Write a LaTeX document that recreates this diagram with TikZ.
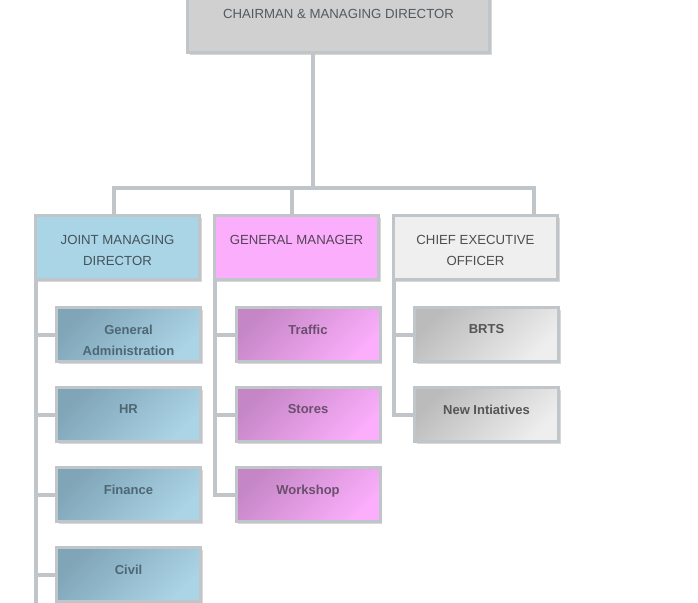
\documentclass[tikz,border=0pt]{standalone}
\usepackage{fontspec}
\setmainfont{Liberation Sans}
\usetikzlibrary{shadows}
\definecolor{linec}{HTML}{BFC5C9}
\definecolor{topc}{HTML}{D0D0D0}
\definecolor{toptx}{HTML}{535A5F}
\definecolor{jmdc}{HTML}{AAD5E7}
\definecolor{jmdtx}{HTML}{44535B}
\definecolor{gmc}{HTML}{FBAEFB}
\definecolor{gmtx}{HTML}{544458}
\definecolor{ceoc}{HTML}{EFEFEF}
\definecolor{ceotx}{HTML}{4E4E4E}
\definecolor{jA}{HTML}{7FA5B7}
\definecolor{jB}{HTML}{ABD4E6}
\definecolor{jtx}{HTML}{4F6673}
\definecolor{gA}{HTML}{C586C6}
\definecolor{gB}{HTML}{FBAEFB}
\definecolor{gtx}{HTML}{6A4F6E}
\definecolor{cA}{HTML}{BBBBBB}
\definecolor{cB}{HTML}{EEEEEE}
\definecolor{ctx}{HTML}{555555}
\begin{document}
\begin{tikzpicture}[x=1pt,y=-1pt,
  conn/.style={draw=linec, line width=4pt},
  box/.style={draw=linec, line width=3pt, inner sep=0pt,
    drop shadow={shadow xshift=2pt, shadow yshift=-2pt, opacity=0.3}},
  lvl/.style={box, minimum width=164pt, minimum height=64pt},
  sub/.style={box, minimum width=144pt, minimum height=54pt},
  jsub/.style={sub, top color=jA, bottom color=jB, shading angle=45},
  gsub/.style={sub, top color=gA, bottom color=gB, shading angle=45},
  csub/.style={sub, top color=cA, bottom color=cB, shading angle=45},
  ttl/.style={font=\fontsize{13.2}{21}\selectfont, align=center, inner sep=0pt, anchor=north},
  subt/.style={font=\fontsize{13}{21}\selectfont\bfseries, align=center, inner sep=0pt, anchor=north},
]
\useasboundingbox[fill=white] (0,0) rectangle (698,602);

% coordinates for connectors
\coordinate (bt) at (313,188);
\coordinate (bl) at (114,188);
\coordinate (bm) at (292,188);
\coordinate (br) at (534,188);
\coordinate (jv) at (36,612);
\coordinate (gv) at (215,0);
\coordinate (cv) at (394,0);

% boxes
\node[box, fill=topc, minimum width=302pt, minimum height=90pt] (ch) at (338.5,8) {};

\node[lvl, fill=jmdc] (jmd) at (117.5,247.5) {};
\node[lvl, fill=gmc] (gm) at (296.5,247.5) {};
\node[lvl, fill=ceoc] (ceo) at (475.5,247.5) {};

\node[jsub] (ga) at (128.5,334.5) {};
\node[jsub] (hr) at (128.5,414.5) {};
\node[jsub] (fin) at (128.5,494.5) {};
\node[jsub] (civ) at (128.5,574.5) {};

\node[gsub] (tr) at (308,334.5) {};
\node[gsub] (st) at (308,414.5) {};
\node[gsub] (ws) at (308,494.5) {};

\node[csub] (br1) at (486.5,334.5) {};
\node[csub] (ni) at (486.5,414.5) {};

% connectors
\draw[conn] (ch.south -| bt) -- (bt);
\draw[conn] (bl |- jmd.north) -- (bl) -- (br) -- (br |- ceo.north);
\draw[conn] (bm) -- (bm |- gm.north);
\draw[conn] (jmd.south -| jv) -- (jv);
\foreach \n in {ga,hr,fin,civ} \draw[conn] (jv |- \n.west) -- (\n.west);
\draw[conn] (gm.south -| gv) -- (gv |- ws.west) -- (ws.west);
\foreach \n in {tr,st} \draw[conn] (gv |- \n.west) -- (\n.west);
\draw[conn] (ceo.south -| cv) -- (cv |- ni.west) -- (ni.west);
\draw[conn] (cv |- br1.west) -- (br1.west);

% texts
\node[ttl, text=toptx] (cht) at (338.5,9.3) {CHAIRMAN \& MANAGING DIRECTOR};
\node[ttl, text=jmdtx] (jmdt) at (117.5,235.5) {JOINT MANAGING\\DIRECTOR};
\node[ttl, text=gmtx] (gmt) at (296.5,235.5) {GENERAL MANAGER};
\node[ttl, text=ceotx] (ceot) at (475.5,235.5) {CHIEF EXECUTIVE\\OFFICER};

\node[subt, text=jtx] (gat) at (128.5,324.5) {General\\Administration};
\node[subt, text=jtx] (hrt) at (128.5,404.5) {HR};
\node[subt, text=jtx] (fint) at (128.5,484.5) {Finance};
\node[subt, text=jtx] (civt) at (128.5,564.5) {Civil};

\node[subt, text=gtx] (trt) at (308,324.5) {Traffic};
\node[subt, text=gtx] (stt) at (308,404.5) {Stores};
\node[subt, text=gtx] (wst) at (308,484.5) {Workshop};

\node[subt, text=ctx] (br1t) at (486.5,324.5) {BRTS};
\node[subt, text=ctx] (nit) at (486.5,404.5) {New Intiatives};
\end{tikzpicture}
\end{document}
